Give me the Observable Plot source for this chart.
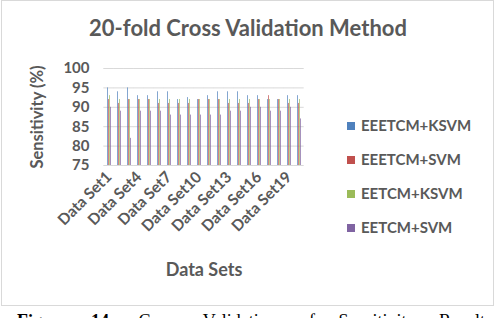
<!DOCTYPE html>
<html>
<head>
<meta charset="utf-8">
<script src="https://cdn.jsdelivr.net/npm/d3@7"></script>
<script src="https://cdn.jsdelivr.net/npm/@observablehq/plot@0.6"></script>
<style>
  html, body { margin: 0; padding: 0; background: #fff; }
  #wrap { position: relative; width: 503px; height: 318px; overflow: hidden; font-family: Lato, "Open Sans", sans-serif; color: #595959; }
  #box { position: absolute; left: 1px; top: 0px; width: 491px; height: 304px; border: 1px solid #d9d9d9; box-sizing: content-box; }
  #chart { position: absolute; left: 0; top: 0; }
  .title { position: absolute; left: 0; width: 496px; top: 17px; text-align: center; font-weight: bold; font-size: 22px; line-height: 22px; }
  .ylab { position: absolute; left: 37px; top: 117px; transform: translate(-50%, -50%) rotate(-90deg); font-weight: bold; font-size: 16.5px; white-space: nowrap; }
  .xlab { position: absolute; left: 204px; top: 269px; transform: translate(-50%, -50%); font-weight: bold; font-size: 18px; white-space: nowrap; }
  .legend { position: absolute; left: 347px; top: 0; }
  .legend div { position: absolute; white-space: nowrap; font-weight: bold; font-size: 15px; line-height: 15px; }
  .legend span.sw { display: inline-block; width: 8px; height: 8px; margin-right: 6px; vertical-align: 1px; }
  .caption { position: absolute; left: 17px; top: 312px; width: 475px; font-family: "Liberation Serif", serif; font-size: 18px; line-height: 18px; color: #000; white-space: nowrap; text-align-last: justify; }
</style>
</head>
<body>
<div id="wrap">
  <div id="box"></div>
  <div id="chart"></div>
  <div class="title">20-fold Cross Validation Method</div>
  <div class="ylab">Sensitivity (%)</div>
  <div class="xlab">Data Sets</div>
  <div class="legend" id="legend"></div>
  <div class="caption"><b>Figure 14:</b> Cross Validation of Sensitivity Results</div>
</div>
<script>
const sets = ["Data Set1","Data Set2","Data Set3","Data Set4","Data Set5","Data Set6","Data Set7","Data Set8","Data Set9","Data Set10",
              "Data Set11","Data Set12","Data Set13","Data Set14","Data Set15","Data Set16","Data Set17","Data Set18","Data Set19","Data Set20"];
const shownLabels = ["Data Set1","Data Set4","Data Set7","Data Set10","Data Set13","Data Set16","Data Set19"];
const series = ["EEETCM+KSVM","EEETCM+SVM","EETCM+KSVM","EETCM+SVM"];
const colors = ["#4F81BD","#C0504D","#9BBB59","#8064A2"];
const yTicks = [75,80,85,90,95,100];

const eeetcmKsvm = [95,94,95,93,93,94,94,92,92.5,92,93,94,94,94,93,93,92,92,93,93];
const eeetcmSvm  = [92,91,92,92,92,91,91,91,91,92,92,92,91,91,91,92,93,92,91,91];
const eetcmKsvm  = [93,92,92,92,92,92,92,92,92,92,92,92,92,92,92,92,92,92,92,92];
const eetcmSvm   = [90,89,82,89,89,89,88,88,88,88,88,88,89,89,90,90,89,89,90,87];
const values = [eeetcmKsvm, eeetcmSvm, eetcmKsvm, eetcmSvm];

const data = sets.flatMap((s, i) => series.map((name, k) => ({set: s, series: name, value: values[k][i]})));

const plot = Plot.plot({
  width: 503,
  height: 305,
  marginLeft: 100,
  marginRight: 196,
  marginTop: 68,
  marginBottom: 140,
  style: {fontFamily: "Lato, 'Open Sans', sans-serif", fontWeight: "bold", color: "#595959", background: "transparent"},
  y: {domain: [75, 100]},
  fx: {domain: sets, paddingInner: 0.3, paddingOuter: 0.15},
  x: {domain: series, padding: 0, axis: null},
  color: {domain: series, range: colors},
  marks: [
    Plot.ruleY(yTicks, {y: d => d, stroke: "#d9d9d9", strokeWidth: 1, insetLeft: -1.7, insetRight: -1.7}),
    Plot.barY(data, {fx: "set", x: "series", y1: yTicks[0], y2: "value", fill: "series", insetLeft: 0.15, insetRight: 0.15}),
    Plot.axisY({ticks: yTicks, tickSize: 0, tickPadding: 16, fontSize: 15, label: null}),
    Plot.axisFx({anchor: "bottom", ticks: shownLabels, tickSize: 0, tickPadding: 9, tickRotate: -45, fontSize: 15.5, label: null})
  ]
});
document.getElementById("chart").appendChild(plot);

const legend = document.getElementById("legend");
const legendTops = [118, 152, 186, 220];
series.forEach((name, k) => {
  const row = document.createElement("div");
  row.style.top = legendTops[k] + "px";
  row.innerHTML = `<span class="sw" style="background:${colors[k]}"></span>${name}`;
  legend.appendChild(row);
});
</script>
</body>
</html>
